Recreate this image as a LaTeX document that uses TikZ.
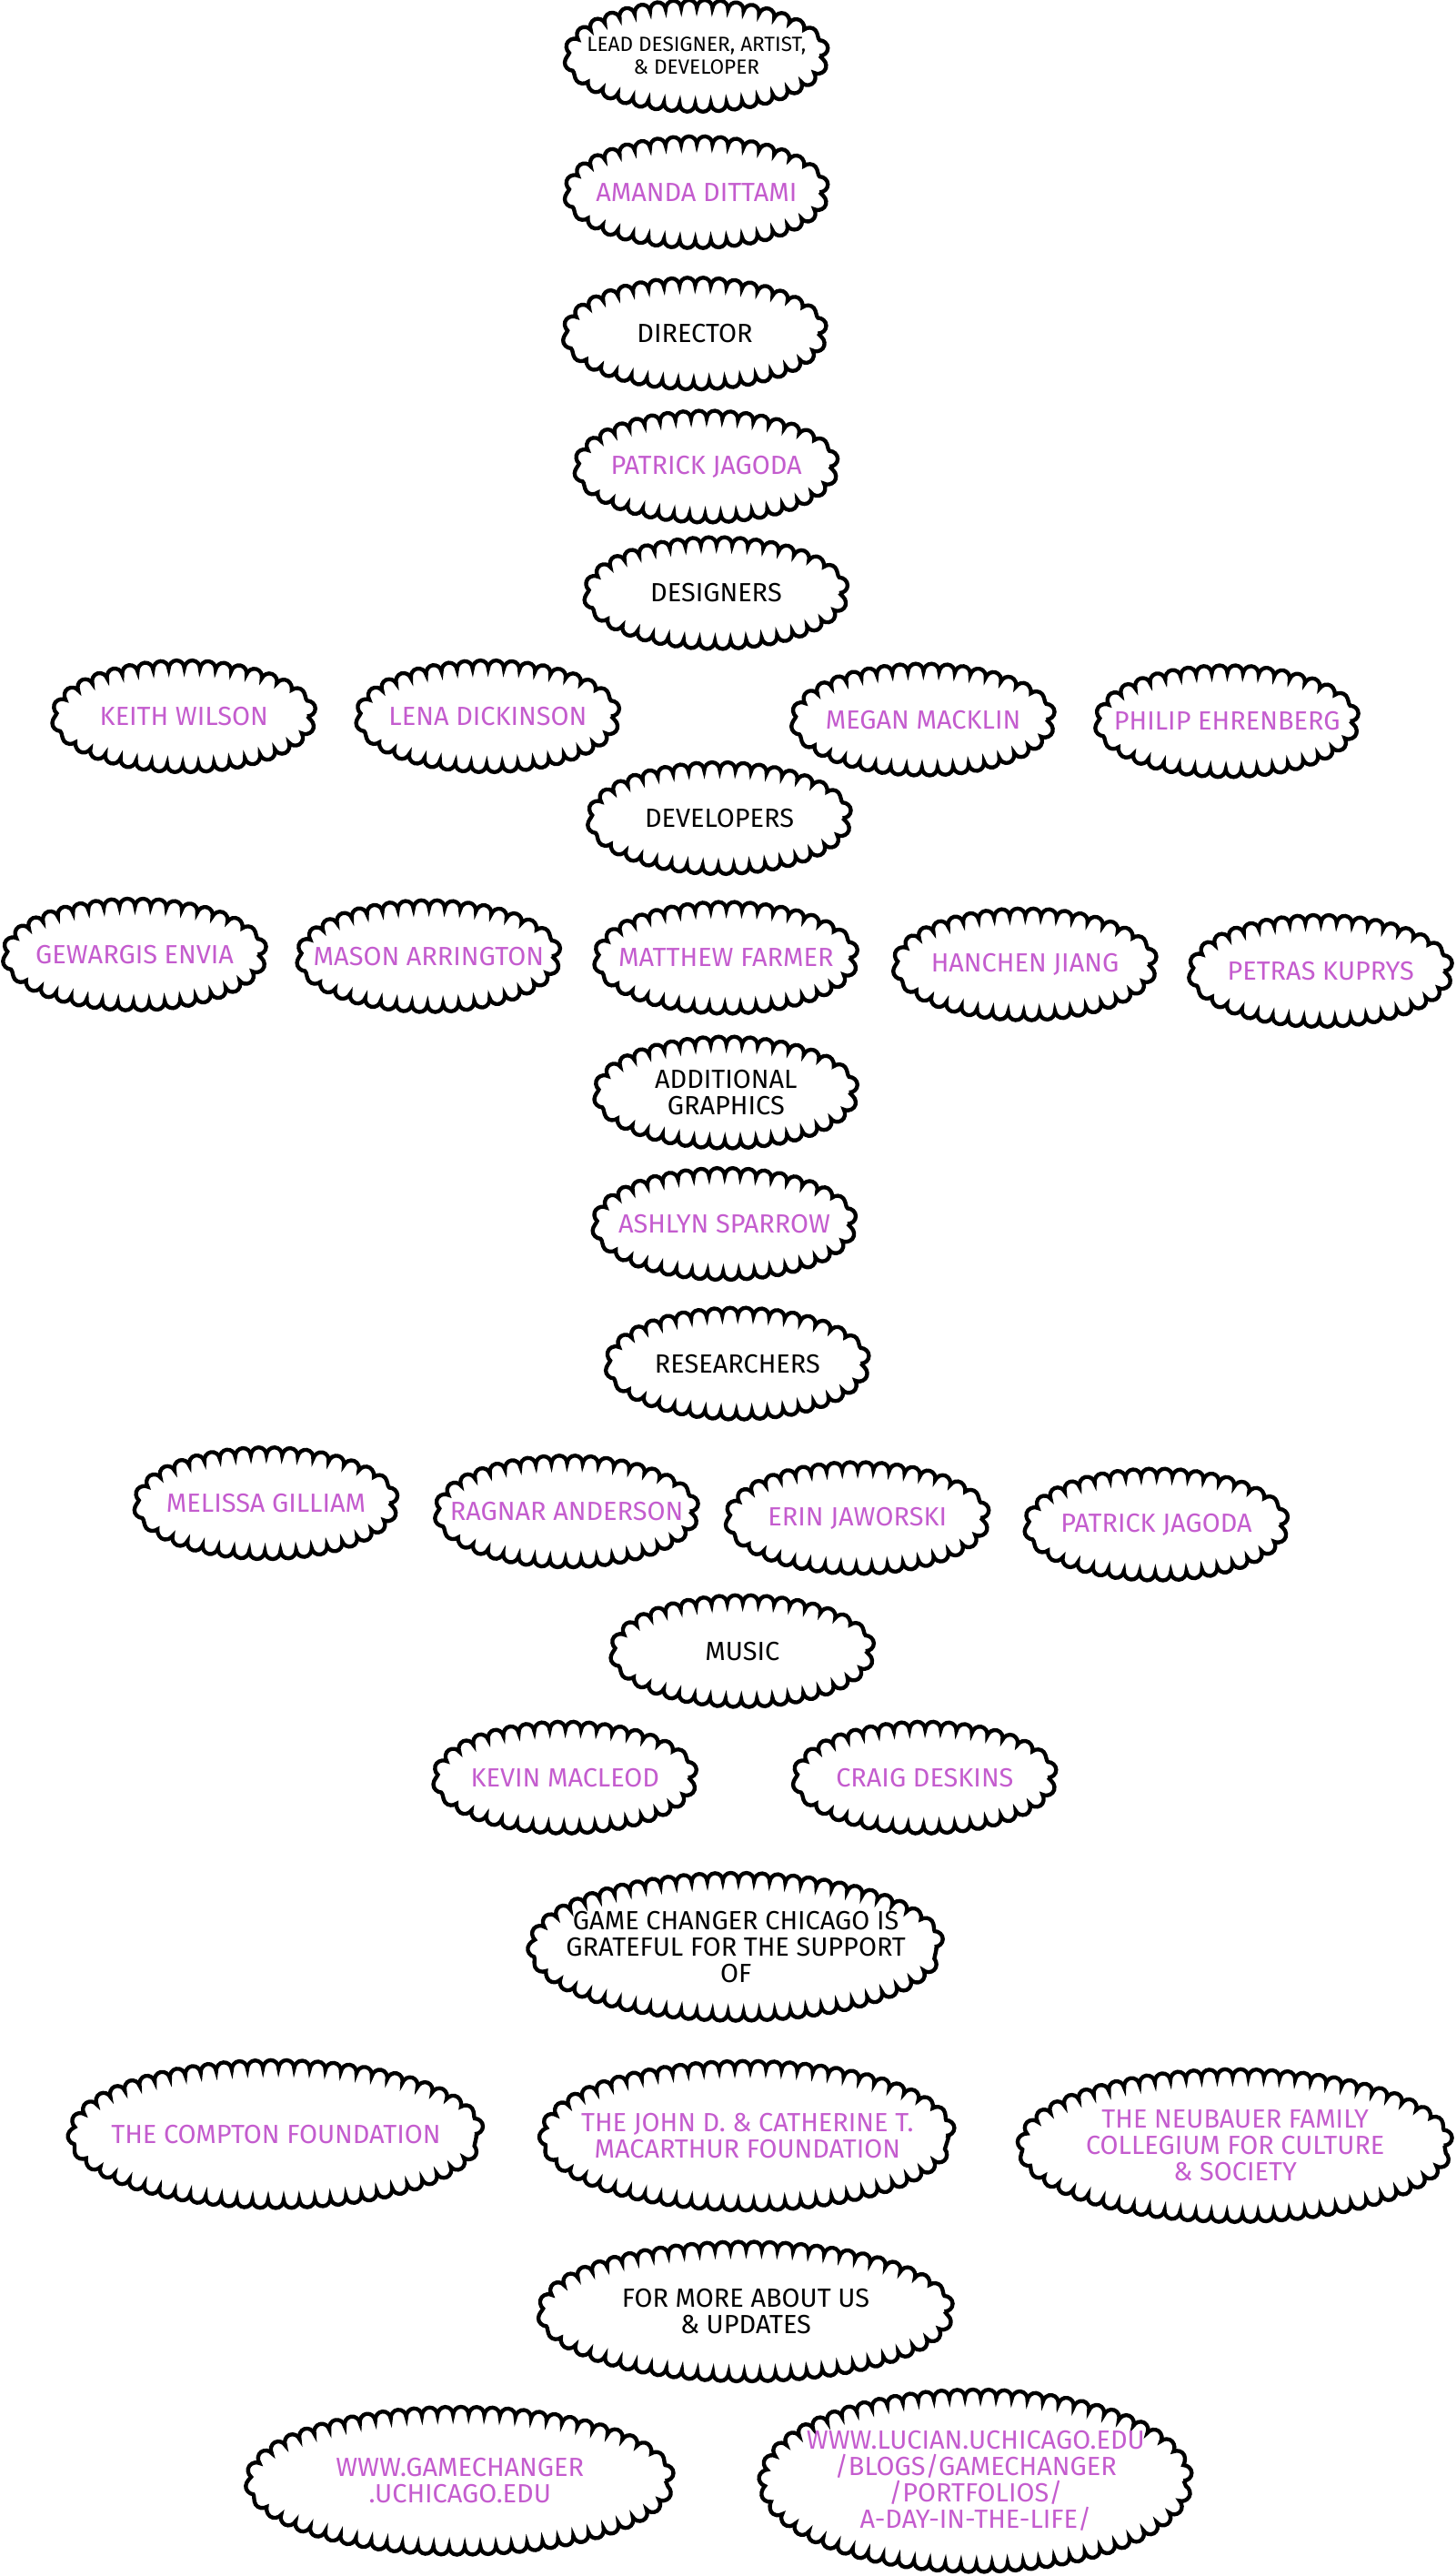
\documentclass[tikz,border=0pt]{standalone}
\usepackage{fontspec}
\setmainfont{Fira Sans}
\usepackage{xcolor}
\usetikzlibrary{shapes,decorations.pathmorphing}
\definecolor{orchid}{RGB}{196,92,206}

\begin{document}
\begin{tikzpicture}[x=1pt, y=-1pt]
\tikzstyle{puff} = [ellipse, draw = black, line width=2.4pt, decorate, decoration={bumps, segment length=19pt, amplitude=-5pt}, align=center, font=\fontsize{16}{16}\selectfont, inner xsep=-36pt, inner ysep=-6pt, minimum width=150pt, minimum height=58pt]
\tikzstyle{role} = [puff, text = black]
\tikzstyle{person} = [puff, text = orchid]
\tikzstyle{big} = [minimum width=242pt, minimum height=80pt]
\useasboundingbox (0,0) rectangle (886,1568);
% team
\node (lead) [role, font=\fontsize{12.5}{13.5}\selectfont] at (424,34) {LEAD DESIGNER, ARTIST,\\\& DEVELOPER};
\node (dittami) [person] at (424,117) {AMANDA DITTAMI};
\node (director) [role] at (423,203) {DIRECTOR};
\node (jagoda) [person] at (430,284) {PATRICK JAGODA};
\node (designers) [role] at (436,361) {DESIGNERS};
\node (wilson) [person] at (112,436) {KEITH WILSON};
\node (dickinson) [person] at (297,436) {LENA DICKINSON};
\node (macklin) [person] at (562,438) {MEGAN MACKLIN};
\node (ehrenberg) [person] at (747,439) {PHILIP EHRENBERG};
\node (developers) [role] at (438,498) {DEVELOPERS};
\node (envia) [person] at (82,581) {GEWARGIS ENVIA};
\node (arrington) [person] at (261,582) {MASON ARRINGTON};
\node (farmer) [person] at (442,583) {MATTHEW FARMER};
\node (jiang) [person] at (624,587) {HANCHEN JIANG};
\node (kuprys) [person] at (804,591) {PETRAS KUPRYS};
\node (graphics) [role] at (442,665) {ADDITIONAL\\GRAPHICS};
\node (sparrow) [person] at (441,745) {ASHLYN SPARROW};
\node (researchers) [role] at (449,830) {RESEARCHERS};
\node (gilliam) [person] at (162,915) {MELISSA GILLIAM};
\node (anderson) [person] at (345,920) {RAGNAR ANDERSON};
\node (jaworski) [person] at (522,924) {ERIN JAWORSKI};
\node (jagoda2) [person] at (704,928) {PATRICK JAGODA};
\node (music) [role] at (452,1005) {MUSIC};
\node (macleod) [person] at (344,1082) {KEVIN MACLEOD};
\node (deskins) [person] at (563,1082) {CRAIG DESKINS};
% support
\node (grateful) [role, big] at (448,1185) {GAME CHANGER CHICAGO IS\\GRATEFUL FOR THE SUPPORT\\OF};
\node (compton) [person, big] at (168,1299) {THE COMPTON FOUNDATION};
\node (macarthur) [person, big, minimum height=81pt] at (455,1300) {THE JOHN D. \& CATHERINE T.\\MACARTHUR FOUNDATION};
\node (neubauer) [person, big, minimum width=254pt, minimum height=83pt] at (752,1306) {THE NEUBAUER FAMILY\\COLLEGIUM FOR CULTURE\\\& SOCIETY};
\node (formore) [role, big, minimum height=75pt] at (454,1407) {FOR MORE ABOUT US\\\& UPDATES};
\node (gcsite) [person, big, minimum width=250pt] at (280,1510) {WWW.GAMECHANGER\\.UCHICAGO.EDU};
\node (luciansite) [person, big, minimum width=253pt, minimum height=101pt] at (594,1510) {WWW.LUCIAN.UCHICAGO.EDU\\/BLOGS/GAMECHANGER\\/PORTFOLIOS/\\A-DAY-IN-THE-LIFE/};
\end{tikzpicture}
\end{document}
